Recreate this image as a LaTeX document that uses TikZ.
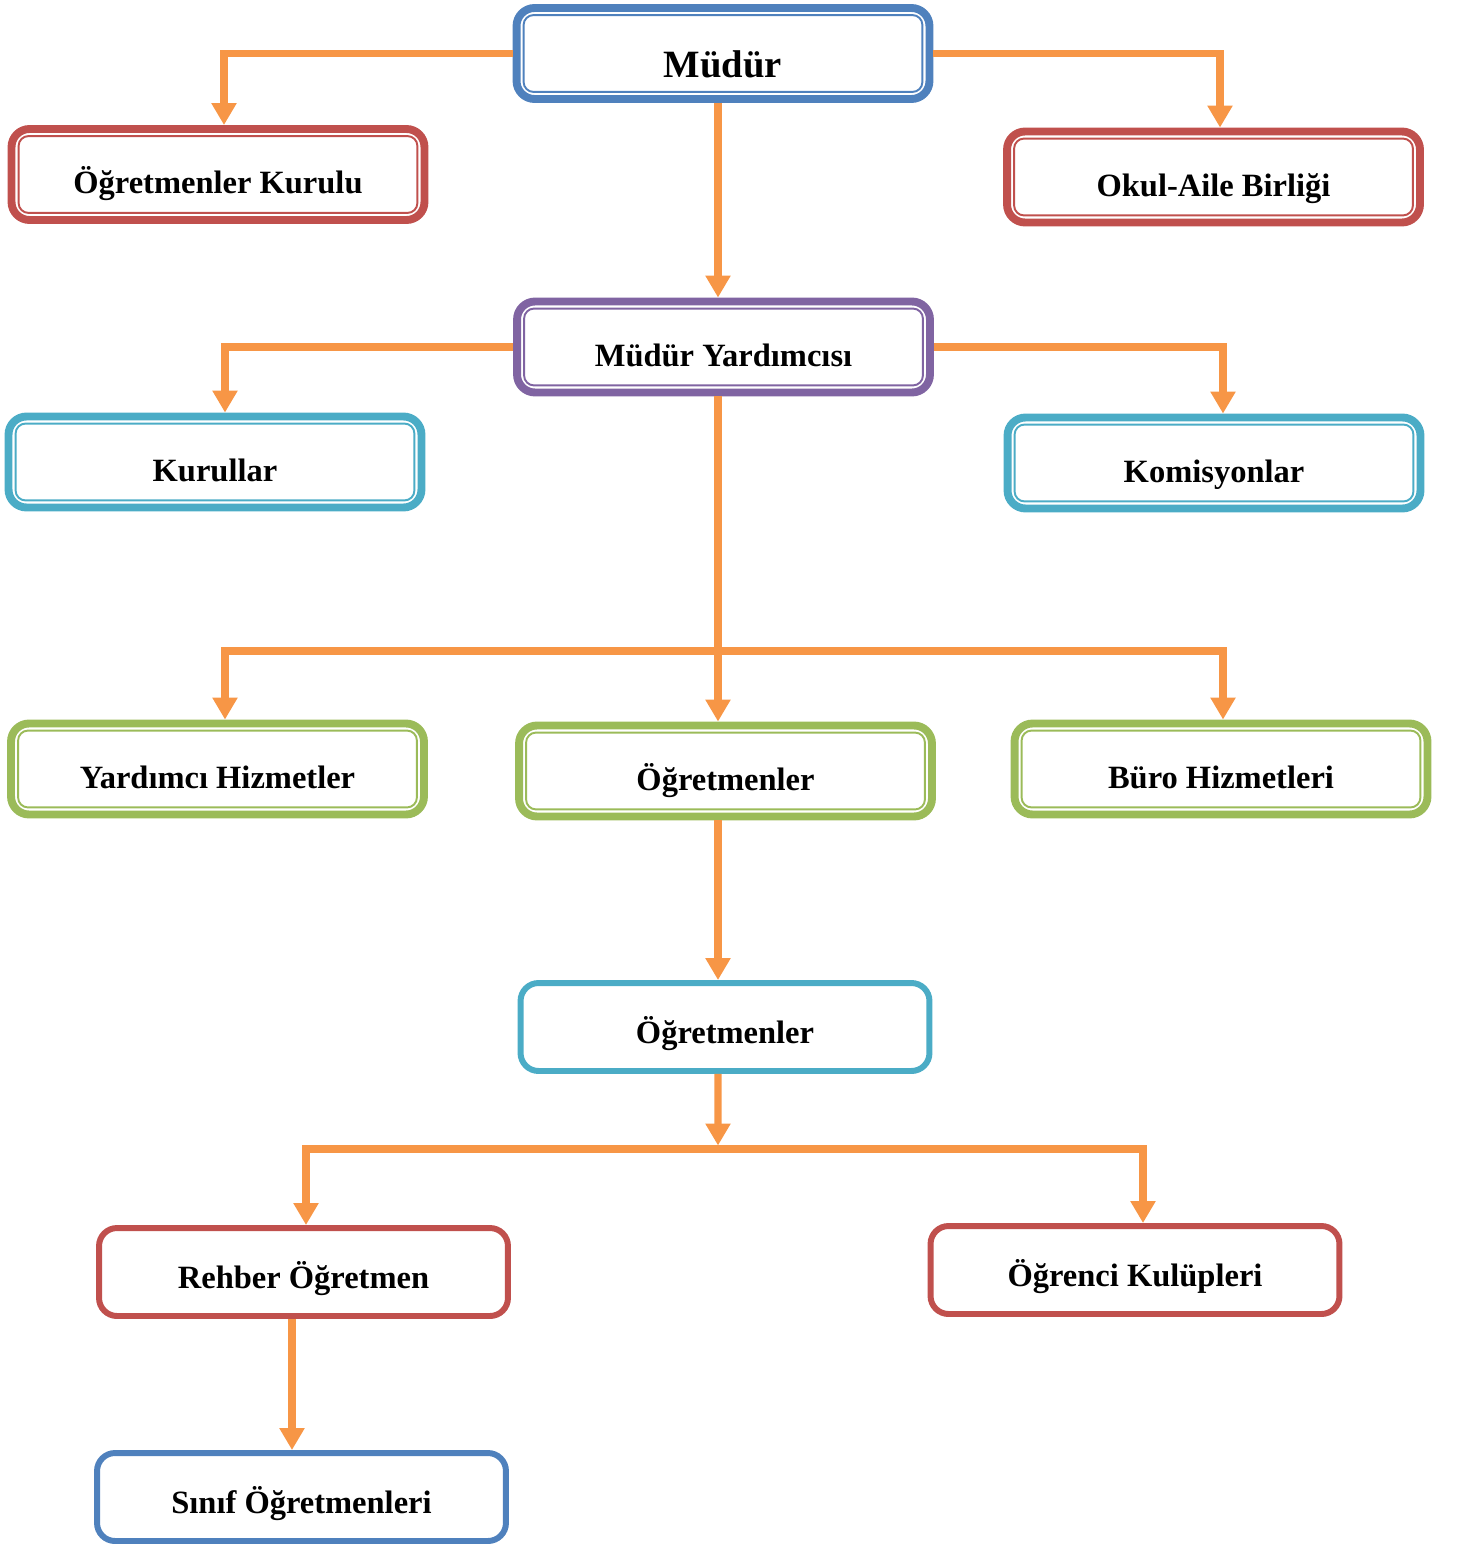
\documentclass[tikz,border=0pt]{standalone}
\usepackage{fontspec}
\setmainfont{Liberation Serif}
\usetikzlibrary{arrows.meta}
\definecolor{mblue}{HTML}{4F81BD}
\definecolor{mred}{HTML}{C0504D}
\definecolor{mpurple}{HTML}{8064A2}
\definecolor{mcyan}{HTML}{4BACC6}
\definecolor{mgreen}{HTML}{9BBB59}
\definecolor{morange}{HTML}{F79646}
\tikzset{
  box/.style={draw=#1, line width=4.5pt, rounded corners=0.36cm,
    minimum width=8.26cm, minimum height=1.82cm,
    font=\bfseries\fontsize{18.5}{22}\selectfont, text height=0.83cm, text depth=0.06cm},
  inbox/.style={draw=#1, line width=1.1pt, rounded corners=0.2cm},
  sbox/.style={draw=#1, line width=3.4pt, rounded corners=0.36cm,
    minimum width=8.18cm, minimum height=1.76cm,
    font=\bfseries\fontsize{18.5}{22}\selectfont, text height=0.73cm, text depth=0.06cm},
  bigtext/.style={font=\bfseries\fontsize{22}{26}\selectfont, text height=1.04cm},
  link/.style={draw=morange, line width=4.25pt, -{Triangle[width=0.48cm,length=0.44cm]}},
}
\begin{document}
\begin{tikzpicture}[x=0.02cm, y=-0.02cm]
    \useasboundingbox (0,0) rectangle (1459,1544);

    % boxes
    \node[box=mblue, bigtext] (mudur) at (723,53.5) {Müdür};
    \node[box=mred] (kurul) at (218,174.5) {Öğretmenler Kurulu};
    \node[box=mred] (veli) at (1213.5,177) {Okul-Aile Birliği};
    \node[box=mpurple] (myard) at (723.5,347) {Müdür Yardımcısı};
    \node[box=mcyan] (kurullar) at (215,462) {Kurullar};
    \node[box=mcyan] (komisyon) at (1214,463) {Komisyonlar};
    \node[box=mgreen] (yardhiz) at (217.5,769) {Yardımcı Hizmetler};
    \node[box=mgreen] (ogr1) at (725.5,771) {Öğretmenler};
    \node[box=mgreen] (buro) at (1221,769) {Büro Hizmetleri};
    \node[sbox=mcyan] (ogr2) at (725,1027) {Öğretmenler};
    \node[sbox=mred] (rehber) at (303.5,1272) {Rehber Öğretmen};
    \node[sbox=mred] (ogrenci) at (1135,1270) {Öğrenci Kulüpleri};
    \node[sbox=mblue] (sinif) at (301.5,1497) {Sınıf Öğretmenleri};

    \foreach \n/\c in {mudur/mblue, kurul/mred, veli/mred, myard/mpurple, kurullar/mcyan,
        komisyon/mcyan, yardhiz/mgreen, ogr1/mgreen, buro/mgreen}
      \draw[inbox=\c] ([shift={(0.22cm,-0.22cm)}]\n.north west) rectangle ([shift={(-0.22cm,0.22cm)}]\n.south east);

    % connectors
    \coordinate (j1) at (718,651);
    \coordinate (j2) at (718,1149);

    \draw[link] (mudur.west) -| ([xshift=0.12cm]kurul.north);
    \draw[link] (mudur.east) -| ([xshift=0.13cm]veli.north);
    \draw[link] ([xshift=-0.1cm]mudur.south) -- ([xshift=-0.1cm]mudur.south |- myard.north);

    \draw[link] (myard.west) -| ([xshift=0.2cm]kurullar.north);
    \draw[link] (myard.east) -| ([xshift=0.18cm]komisyon.north);
    \draw[link] ([xshift=-0.11cm]myard.south) -- ([xshift=-0.11cm]myard.south |- ogr1.north);
    \draw[link] (j1) -| ([xshift=0.15cm]yardhiz.north);
    \draw[link] (j1) -| ([xshift=0.04cm]buro.north);

    \draw[link] ([xshift=-0.15cm]ogr1.south) -- ([xshift=-0.15cm]ogr1.south |- ogr2.north);
    \draw[link, shorten >=0.07cm] ([xshift=-0.14cm]ogr2.south) -- (j2);
    \draw[link] (j2) -| ([xshift=0.05cm]rehber.north);
    \draw[link] (j2) -| ([xshift=0.16cm]ogrenci.north);
    \draw[link] ([xshift=-0.23cm]rehber.south) -- ([xshift=-0.23cm]rehber.south |- sinif.north);
\end{tikzpicture}
\end{document}
